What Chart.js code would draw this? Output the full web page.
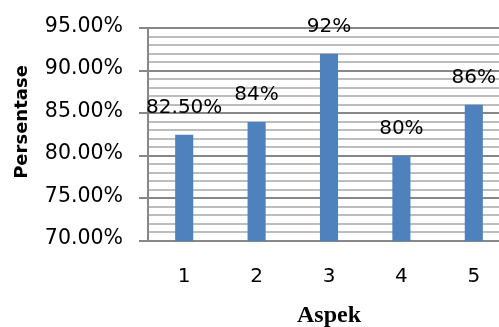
<!DOCTYPE html>
<html>
<head>
<meta charset="utf-8">
<script src="https://cdn.jsdelivr.net/npm/chart.js@4/dist/chart.umd.min.js"></script>
<style>
  html, body { margin: 0; padding: 0; background: #ffffff; overflow: hidden; }
  #wrap { width: 499px; height: 327px; overflow: hidden; }
  canvas { display: block; }
</style>
</head>
<body>
<div id="wrap"><canvas id="chart" width="510" height="327"></canvas></div>
<script>
// Aspek categories and their percentages
const aspekLabels = ['1', '2', '3', '4', '5'];
const persentaseValues = [82.5, 84, 92, 80, 86];
const valueLabels = ['82.50%', '84%', '92%', '80%', '86%'];

// y axis range and labelled (major) ticks
const yMin = 70;
const yMax = 95;
const yMajorTicks = [70, 75, 80, 85, 90, 95];
const yMajorLabels = ['70.00%', '75.00%', '80.00%', '85.00%', '90.00%', '95.00%'];

const yTitleText = 'Persentase';
const xTitleText = 'Aspek';

const MAJOR_GRID = '#878787';
const MINOR_GRID = '#bdbdbd';

// value labels above each bar
const barValueLabels = {
  id: 'barValueLabels',
  afterDatasetsDraw(chart) {
    const { ctx } = chart;
    const meta = chart.getDatasetMeta(0);
    ctx.save();
    ctx.font = '20px "DejaVu Sans"';
    ctx.fillStyle = '#000000';
    ctx.textAlign = 'center';
    ctx.textBaseline = 'middle';
    meta.data.forEach((bar, i) => {
      ctx.fillText(valueLabels[i], bar.x, bar.y - 27);
    });
    ctx.restore();
  }
};

// rotated y axis title
const yAxisTitle = {
  id: 'yAxisTitle',
  afterDraw(chart) {
    const { ctx } = chart;
    ctx.save();
    ctx.translate(22, 122);
    ctx.rotate(-Math.PI / 2);
    ctx.font = 'bold 18px "DejaVu Sans"';
    ctx.fillStyle = '#000000';
    ctx.textAlign = 'center';
    ctx.textBaseline = 'middle';
    ctx.fillText(yTitleText, 0, 0);
    ctx.restore();
  }
};

new Chart(document.getElementById('chart'), {
  type: 'bar',
  data: {
    labels: aspekLabels,
    datasets: [{
      data: persentaseValues,
      backgroundColor: '#4f81bd',
      borderWidth: 0,
      barPercentage: 0.25,
      categoryPercentage: 1.0
    }]
  },
  options: {
    responsive: false,
    animation: false,
    devicePixelRatio: 1,
    layout: { padding: { top: 23, right: 0, bottom: 0, left: 0 } },
    plugins: {
      legend: { display: false },
      tooltip: { enabled: false }
    },
    scales: {
      x: {
        grid: { display: false, drawTicks: false },
        border: { display: false },
        ticks: {
          color: '#000000',
          font: { family: 'DejaVu Sans', size: 20 },
          padding: 24
        },
        title: {
          display: true,
          text: xTitleText,
          color: '#000000',
          font: { family: 'Liberation Serif', size: 24, weight: 'bold' },
          padding: { top: 0, bottom: -3 }
        },
        afterFit(scale) { scale.height = 86; }
      },
      y: {
        min: yMin,
        max: yMax,
        ticks: {
          stepSize: 1,
          autoSkip: false,
          color: '#000000',
          font: { family: 'DejaVu Sans', size: 20.5 },
          padding: 16,
          labelOffset: -2,
          callback(value) {
            const idx = yMajorTicks.indexOf(value);
            return idx >= 0 ? yMajorLabels[idx] : '';
          }
        },
        grid: {
          lineWidth: 2,
          tickLength: 9,
          color(c) { return c.tick && c.tick.value % 5 === 0 ? MAJOR_GRID : MINOR_GRID; },
          tickColor(c) { return c.tick && c.tick.value % 5 === 0 ? MAJOR_GRID : 'rgba(0,0,0,0)'; }
        },
        border: { display: true, color: MAJOR_GRID, width: 2 },
        afterFit(scale) { scale.width = 148; }
      }
    }
  },
  plugins: [barValueLabels, yAxisTitle]
});
</script>
</body>
</html>
